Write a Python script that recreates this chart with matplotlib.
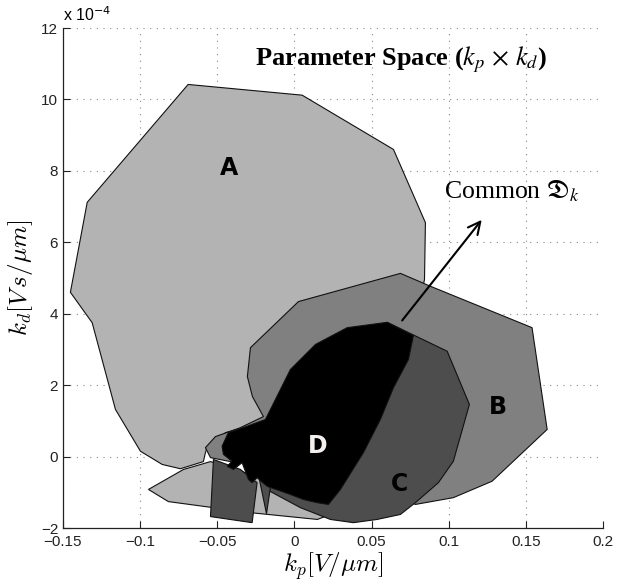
import matplotlib
matplotlib.use('Agg')
import matplotlib.pyplot as plt
from matplotlib.patches import Polygon

# region outlines (kp [V/um], kd [x 1e-4 Vs/um])
a_kp = [-0.0689, 0.0050, 0.0568, 0.0642, 0.0849, 0.0843, 0.0817, -0.0091, -0.0175, -0.0201,
        -0.0305, -0.0447, -0.0480, -0.0564, -0.0577, -0.0590, -0.0739, -0.0857, -0.0998,
        -0.1160, -0.1311, -0.1452, -0.1343]
a_kd = [10.42, 10.12, 8.79, 8.60, 6.55, 4.96, 4.40, 1.04, 1.04, 0.95,
        0.84, 0.67, 0.53, 0.28, 0.11, -0.14, -0.34, -0.22, 0.15,
        1.32, 3.75, 4.60, 7.12]

a2_kp = [-0.0946, -0.0719, -0.0544, -0.0220, 0.0039, 0.0233, 0.0149, -0.0285, -0.0817]
a2_kd = [-0.92, -0.36, -0.14, -0.59, -1.20, -1.62, -1.76, -1.57, -1.26]

b_kp = [0.0687, 0.0881, 0.1540, 0.1638, 0.1281, 0.1030, 0.0784, 0.0363, -0.0415, -0.0544,
        -0.0577, -0.0512, -0.0350, -0.0201, -0.0272, -0.0305, -0.0285, 0.0026]
b_kd = [5.13, 4.77, 3.61, 0.76, -0.69, -1.15, -1.34, -0.36, -0.14, -0.03,
        0.25, 0.56, 0.81, 1.12, 1.68, 2.24, 3.05, 4.34]

c_kp = [0.0601, 0.0990, 0.1134, 0.1030, 0.0933, 0.0784, 0.0687, 0.0536, 0.0382, 0.0233,
        0.0039, -0.0181, -0.0207, 0.0233, 0.0557]
c_kd = [3.76, 2.95, 1.46, -0.13, -0.73, -1.29, -1.62, -1.76, -1.85, -1.76,
        -1.43, -0.92, -0.59, 1.04, 3.28]

c2_kp = [-0.0525, -0.0544, -0.0274, -0.0242, -0.0350]
c2_kd = [-0.08, -1.68, -1.85, -0.73, -0.36]

c3_kp = [-0.0227, -0.0181, -0.0156]
c3_kd = [-0.64, -1.60, -0.87]

d_kp = [0.0601, 0.0771, 0.0739, 0.0642, 0.0557, 0.0447, 0.0298, 0.0220, 0.0147, 0.0058,
        -0.0026, -0.0177, -0.0242, -0.0274, -0.0298, -0.0339, -0.0395, -0.0436, -0.0404,
        -0.0460, -0.0469, -0.0428, -0.0307, -0.0188, -0.0123, -0.0026, 0.0136, 0.0342]
d_kd = [3.76, 3.39, 2.72, 1.93, 1.04, 0.11, -0.92, -1.34, -1.29, -1.20,
        -1.06, -0.83, -0.59, -0.73, -0.64, -0.17, -0.36, -0.27, -0.13,
        0.06, 0.29, 0.67, 0.85, 1.04, 1.60, 2.44, 3.14, 3.61]

xticks = [-0.15, -0.1, -0.05, 0, 0.05, 0.1, 0.15, 0.2]
xticklabels = ['\u22120.15', '\u22120.1', '\u22120.05', '0', '0.05', '0.1', '0.15', '0.2']
yticks = [-2, 0, 2, 4, 6, 8, 10, 12]

fig = plt.figure(figsize=(6.2, 5.85), dpi=100)
ax = fig.add_axes([0.1016, 0.0974, 0.871, 0.8547])

regions = [
    (a_kp, a_kd, '#b3b3b3'),
    (a2_kp, a2_kd, '#b3b3b3'),
    (b_kp, b_kd, '#808080'),
    (c_kp, c_kd, '#4d4d4d'),
    (c2_kp, c2_kd, '#4d4d4d'),
    (c3_kp, c3_kd, '#4d4d4d'),
    (d_kp, d_kd, '#000000'),
]
for xs, ys, col in regions:
    ax.add_patch(Polygon(list(zip(xs, ys)), closed=True, facecolor=col,
                         edgecolor='#111111', linewidth=0.8, zorder=2))

ax.set_xlim(-0.15, 0.2)
ax.set_ylim(-2, 12)
ax.set_xticks(xticks)
ax.set_xticklabels(xticklabels)
ax.set_yticks(yticks)
ax.set_yticklabels([str(v).replace('-', '\u2212') for v in yticks])
for lab in ax.get_xticklabels() + ax.get_yticklabels():
    lab.set_family('Liberation Sans')
    lab.set_fontsize(11)
ax.tick_params(direction='in', length=5, width=0.8, colors='#222222')
ax.tick_params(axis='x', pad=5)
for s in ['top', 'right']:
    ax.spines[s].set_visible(False)
for s in ['left', 'bottom']:
    ax.spines[s].set_linewidth(0.9)
    ax.spines[s].set_color('#222222')
ax.grid(True, linestyle=(0, (1, 5)), color='#888888', linewidth=0.8, zorder=0)
ax.set_axisbelow(True)

# labels
lbl = dict(fontsize=17, fontweight='bold', family='DejaVu Sans', ha='center', va='center', zorder=5)
ax.text(-0.0421, 8.09, 'A', color='black', **lbl)
ax.text(0.1316, 1.40, 'B', color='black', **lbl)
ax.text(0.0680, -0.76, 'C', color='black', **lbl)
ax.text(0.0149, 0.31, 'D', color='#f4f0ee', **lbl)

ax.text(0.0690, 11.12, r'Parameter Space ($k_p$ $\times$ $k_d$)', fontsize=19, fontweight='bold',
        family='Liberation Serif', math_fontfamily='stix', ha='center', va='center')
ax.text(0.1410, 7.42, r'Common $\mathfrak{D}_k$', fontsize=18.5, family='Liberation Serif',
        math_fontfamily='stix', ha='center', va='center')
ax.annotate('', xy=(0.1225, 6.69), xytext=(0.0687, 3.75),
            arrowprops=dict(arrowstyle='->', color='black', lw=1.5, mutation_scale=22),
            zorder=6)

ax.set_xlabel(r'$k_p[V/\mu m]$', fontsize=18, math_fontfamily='cm', labelpad=1)
ax.set_ylabel(r'$k_d[V\,s/\mu m]$', fontsize=18, math_fontfamily='cm', labelpad=4)
fig.text(63 / 620, 1 - 15 / 585, r'x 10$^{-4}$', fontsize=11.5, family='Liberation Sans',
         va='center', ha='left')

fig.savefig('out.png', dpi=100)
